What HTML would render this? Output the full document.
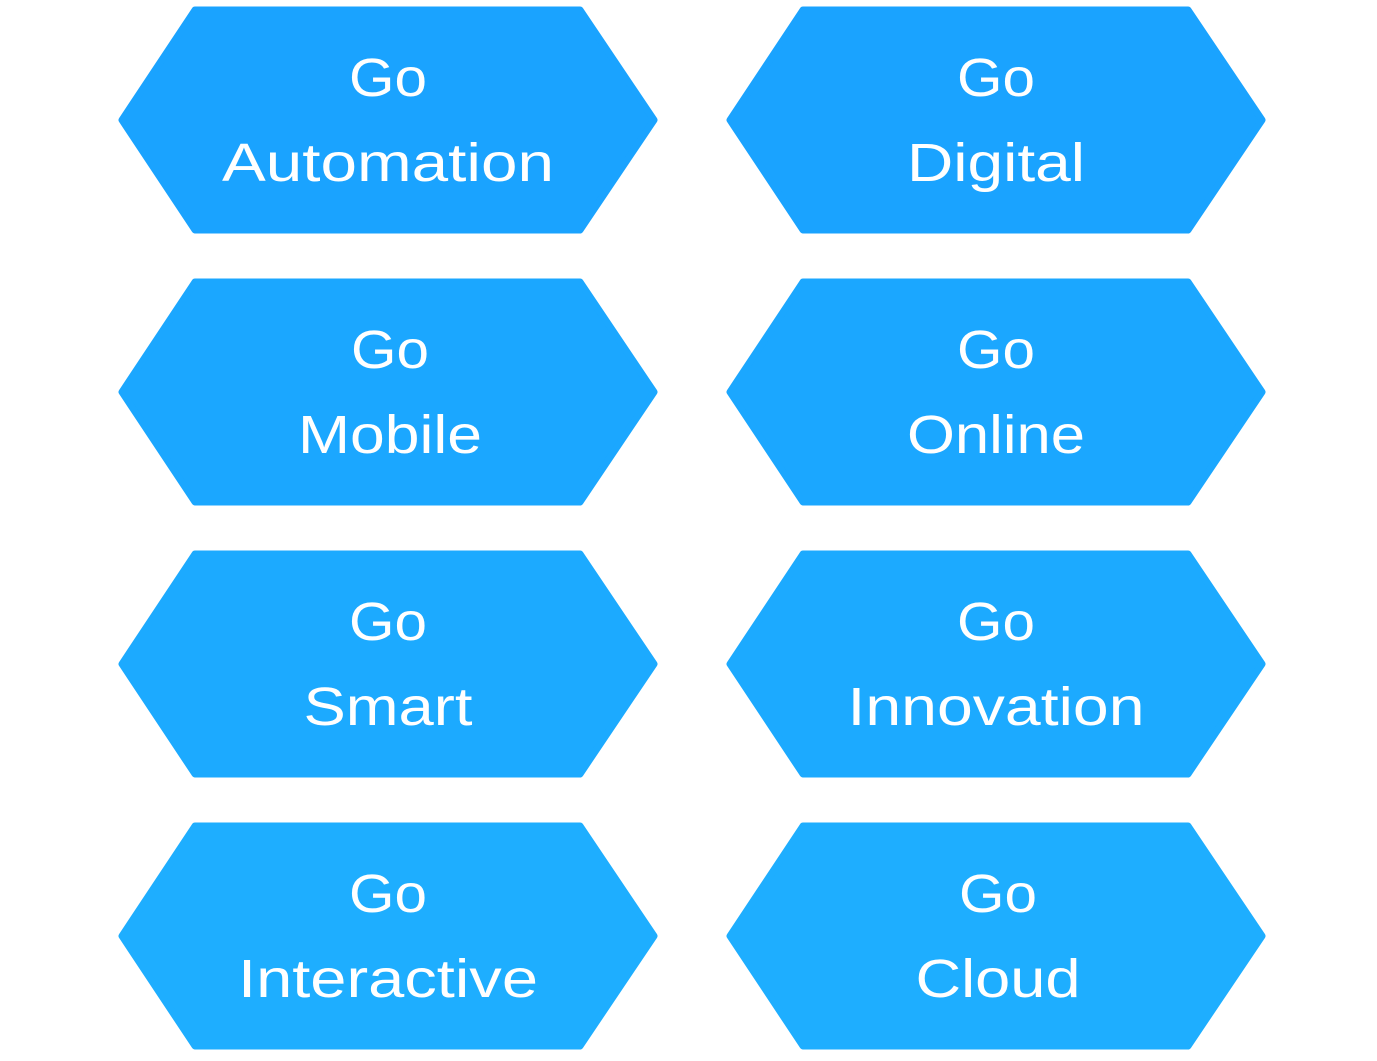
<!DOCTYPE html>
<html><head><style>html,body{margin:0;padding:0;background:#fff}</style></head>
<body>
<svg width="1377" height="1056" viewBox="0 0 1377 1056" xmlns="http://www.w3.org/2000/svg" font-family="'Liberation Sans', sans-serif" font-size="54" fill="#fff" text-anchor="middle">
<defs>
<path id="h" d="M195,10 L580,10 L654,120 L580,230 L195,230 L122,120 Z" stroke-linejoin="round" stroke-width="7"/>
</defs>
<g>
<use href="#h" fill="#1aa3ff" stroke="#1aa3ff"/>
<use href="#h" x="608" fill="#1aa3ff" stroke="#1aa3ff"/>
<use href="#h" y="272" fill="#1ba7ff" stroke="#1ba7ff"/>
<use href="#h" x="608" y="272" fill="#1ba7ff" stroke="#1ba7ff"/>
<use href="#h" y="544" fill="#1caaff" stroke="#1caaff"/>
<use href="#h" x="608" y="544" fill="#1caaff" stroke="#1caaff"/>
<use href="#h" y="816" fill="#1eaeff" stroke="#1eaeff"/>
<use href="#h" x="608" y="816" fill="#1eaeff" stroke="#1eaeff"/>
</g>
<g fill="#fff" lengthAdjust="spacingAndGlyphs">
<text x="388" y="96" textLength="78" lengthAdjust="spacingAndGlyphs">Go</text><text x="388" y="181" textLength="332" lengthAdjust="spacingAndGlyphs">Automation</text>
<text x="996" y="96" textLength="78" lengthAdjust="spacingAndGlyphs">Go</text><text x="996" y="181" textLength="178" lengthAdjust="spacingAndGlyphs">Digital</text>
<text x="390" y="368" textLength="78" lengthAdjust="spacingAndGlyphs">Go</text><text x="390" y="453" textLength="184" lengthAdjust="spacingAndGlyphs">Mobile</text>
<text x="996" y="368" textLength="78" lengthAdjust="spacingAndGlyphs">Go</text><text x="996" y="453" textLength="178" lengthAdjust="spacingAndGlyphs">Online</text>
<text x="388" y="640" textLength="78" lengthAdjust="spacingAndGlyphs">Go</text><text x="388" y="725" textLength="169" lengthAdjust="spacingAndGlyphs">Smart</text>
<text x="996" y="640" textLength="78" lengthAdjust="spacingAndGlyphs">Go</text><text x="996" y="725" textLength="297" lengthAdjust="spacingAndGlyphs">Innovation</text>
<text x="388" y="912" textLength="78" lengthAdjust="spacingAndGlyphs">Go</text><text x="388" y="997" textLength="300" lengthAdjust="spacingAndGlyphs">Interactive</text>
<text x="998" y="912" textLength="78" lengthAdjust="spacingAndGlyphs">Go</text><text x="998" y="997" textLength="165" lengthAdjust="spacingAndGlyphs">Cloud</text>
</g>
</svg>
</body></html>
